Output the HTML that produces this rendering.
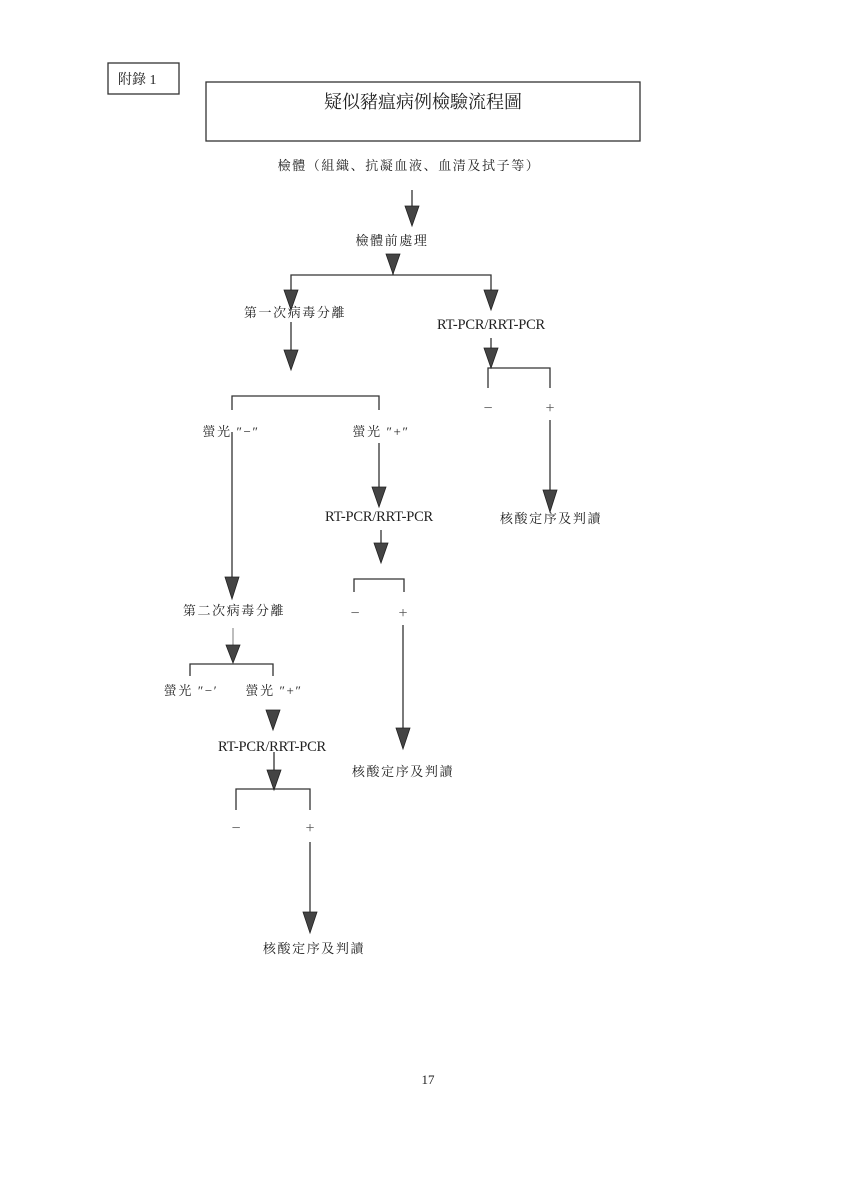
<!DOCTYPE html>
<html><head><meta charset="utf-8"><style>
html,body{margin:0;padding:0;background:#fff;}
svg{display:block}
.c{font-family:"Liberation Serif","Noto Serif CJK SC","Noto Sans CJK TC",serif;fill:#222;}
.k{letter-spacing:1.6px}
.r{font-size:14.5px;letter-spacing:-0.2px}
.s{font-size:16px;fill:#555}
</style></head><body>
<svg width="849" height="1200" viewBox="0 0 849 1200" xmlns="http://www.w3.org/2000/svg">
<g fill="none" stroke="#333" stroke-width="1.3">
<rect x="108" y="63" width="71" height="31"/>
<rect x="206" y="82" width="434" height="59"/>
<line x1="412" y1="190" x2="412" y2="215"/>
<line x1="393" y1="268" x2="393" y2="275"/>
<polyline points="291,295 291,275 491,275 491,295"/>
<line x1="291" y1="322" x2="291" y2="355"/>
<line x1="491" y1="338" x2="491" y2="350"/>
<polyline points="488,388 488,368 550,368 550,388"/>
<line x1="550" y1="420" x2="550" y2="495"/>
<polyline points="232,410 232,396 379,396 379,410"/>
<line x1="232" y1="432" x2="232" y2="582"/>
<line x1="379" y1="443" x2="379" y2="490"/>
<line x1="381" y1="530" x2="381" y2="546"/>
<polyline points="354,592 354,579 404,579 404,592"/>
<line x1="403" y1="625" x2="403" y2="732"/>
<line x1="233" y1="628" x2="233" y2="650" stroke="#999"/>
<polyline points="190,676 190,664 273,664 273,676"/>
<line x1="274" y1="752" x2="274" y2="774"/>
<polyline points="236,810 236,789 310,789 310,810"/>
<line x1="310" y1="842" x2="310" y2="916"/>
</g>
<g fill="#444" stroke="#222" stroke-width="0.8">
<polygon points="405,206 419,206 412,226"/>
<polygon points="386,254 400,254 393,274"/>
<polygon points="284,290 298,290 291,310"/>
<polygon points="484,290 498,290 491,310"/>
<polygon points="284,350 298,350 291,370"/>
<polygon points="484,348 498,348 491,368"/>
<polygon points="543,490 557,490 550,512"/>
<polygon points="225,577 239,577 232,599"/>
<polygon points="372,487 386,487 379,507"/>
<polygon points="374,543 388,543 381,563"/>
<polygon points="396,728 410,728 403,749"/>
<polygon points="226,645 240,645 233,663"/>
<polygon points="266,710 280,710 273,730"/>
<polygon points="267,770 281,770 274,790"/>
<polygon points="303,912 317,912 310,933"/>
</g>
<g class="c" font-size="13">
<text x="118" y="84" font-size="14">附錄 1</text>
<text x="423" y="108" font-size="18" text-anchor="middle">疑似豬瘟病例檢驗流程圖</text>
<text class="k" x="409" y="170" text-anchor="middle">檢體（組織、抗凝血液、血清及拭子等）</text>
<text class="k" x="392" y="245" text-anchor="middle">檢體前處理</text>
<text class="k" x="295" y="317" text-anchor="middle">第一次病毒分離</text>
<text class="r" x="491" y="329" text-anchor="middle">RT-PCR/RRT-PCR</text>
<text class="s" x="488" y="413" text-anchor="middle">−</text>
<text class="s" x="550" y="413" text-anchor="middle">+</text>
<text class="k" x="551" y="523" text-anchor="middle">核酸定序及判讀</text>
<text class="k" x="231" y="436" text-anchor="middle">螢光 ″−″</text>
<text class="k" x="381" y="436" text-anchor="middle">螢光 ″+″</text>
<text class="r" x="379" y="521" text-anchor="middle">RT-PCR/RRT-PCR</text>
<text class="s" x="355" y="618" text-anchor="middle">−</text>
<text class="s" x="403" y="618" text-anchor="middle">+</text>
<text class="k" x="403" y="776" text-anchor="middle">核酸定序及判讀</text>
<text class="k" x="234" y="615" text-anchor="middle">第二次病毒分離</text>
<text class="k" x="191" y="695" text-anchor="middle">螢光 ″−′</text>
<text class="k" x="274" y="695" text-anchor="middle">螢光 ″+″</text>
<text class="r" x="272" y="751" text-anchor="middle">RT-PCR/RRT-PCR</text>
<text class="s" x="236" y="833" text-anchor="middle">−</text>
<text class="s" x="310" y="833" text-anchor="middle">+</text>
<text class="k" x="314" y="953" text-anchor="middle">核酸定序及判讀</text>
<text x="428" y="1084" text-anchor="middle">17</text>
</g>
</svg>
</body></html>
